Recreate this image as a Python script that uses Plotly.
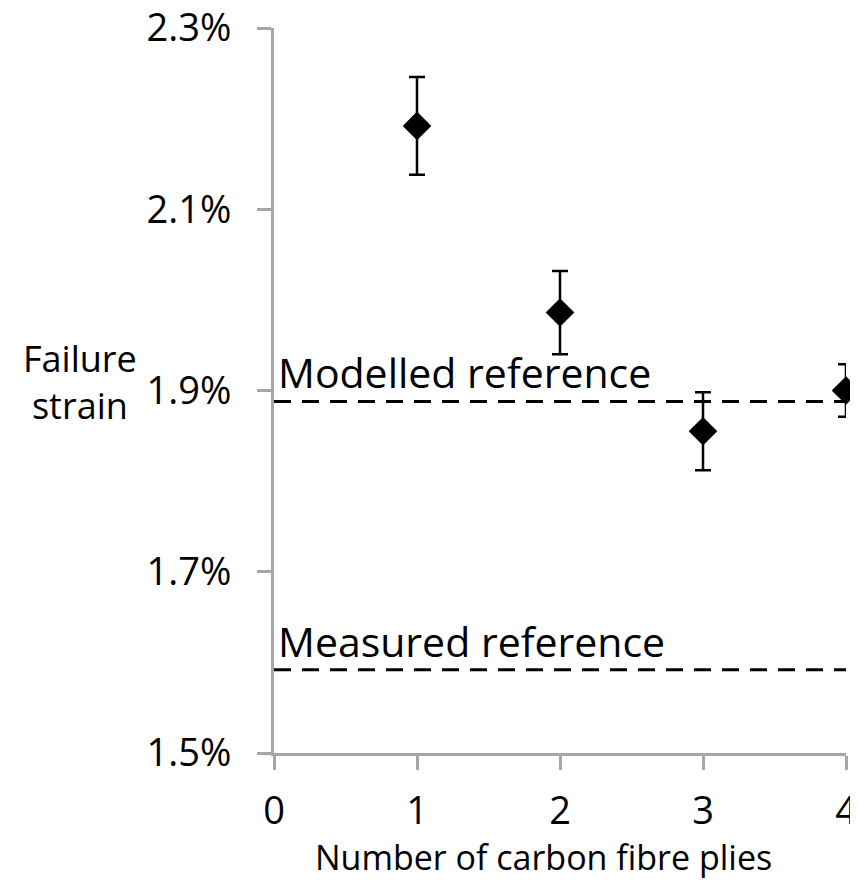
import plotly.graph_objects as go

plies = [1, 2, 3, 4]
failure_strain = [0.02192, 0.01986, 0.01855, 0.01900]
strain_error = [0.00054, 0.00046, 0.00043, 0.00029]
modelled_reference = 0.01888
measured_reference = 0.01592
ref_x = [0, 4]
y_ticks = [0.015, 0.017, 0.019, 0.021, 0.023]
x_ticks = [0, 1, 2, 3, 4]

FONT = "Open Sans"
AXIS_GREY = "#a6a6a6"
W, H = 858, 880
OFF = 8  # page body margin
L, T = 274 - OFF, 28 - OFF
R = W - (846 - OFF)
B = H - (753 - OFF)
PW, PH = W - L - R, H - T - B


def px_x(x):
    return (x - OFF - L) / PW


def px_y(y):
    return 1 - (y - OFF - T) / PH


fig = go.Figure()

fig.add_trace(go.Scatter(
    x=ref_x, y=[modelled_reference] * 2, mode="lines",
    line=dict(color="black", width=3, dash="17px,11px"),
    showlegend=False, hoverinfo="skip", cliponaxis=False))
fig.add_trace(go.Scatter(
    x=ref_x, y=[measured_reference] * 2, mode="lines",
    line=dict(color="black", width=3, dash="17px,11px"),
    showlegend=False, hoverinfo="skip", cliponaxis=False))

fig.add_trace(go.Scatter(
    x=plies, y=failure_strain, mode="markers",
    marker=dict(symbol="diamond", size=22, color="black"),
    error_y=dict(type="data", array=strain_error, visible=True,
                 color="black", thickness=2.5, width=8),
    showlegend=False, cliponaxis=False))

fig.add_annotation(x=0, y=modelled_reference, xref="x", yref="y",
                   text="Modelled reference", showarrow=False,
                   xanchor="left", yanchor="bottom", xshift=2, yshift=-1,
                   font=dict(family=FONT, size=41, color="black"))
fig.add_annotation(x=0, y=measured_reference, xref="x", yref="y",
                   text="Measured reference", showarrow=False,
                   xanchor="left", yanchor="bottom", xshift=2, yshift=-1,
                   font=dict(family=FONT, size=41, color="black"))

fig.add_annotation(xref="paper", yref="paper",
                   x=px_x(80), y=px_y(382),
                   xanchor="center", yanchor="middle",
                   text="Failure<br>strain", showarrow=False,
                   font=dict(family=FONT, size=36, color="black"))

fig.add_annotation(xref="paper", yref="paper",
                   x=px_x(543), y=px_y(857),
                   xanchor="center", yanchor="middle",
                   text="Number of carbon fibre plies", showarrow=False,
                   font=dict(family=FONT, size=34, color="black"))

fig.update_layout(
    width=W, height=H,
    margin=dict(l=L, r=R, t=T, b=B),
    paper_bgcolor="white", plot_bgcolor="white",
    font=dict(family=FONT, size=38, color="black"),
    xaxis=dict(
        range=[0, 4], tickvals=x_ticks, ticktext=[str(v) for v in x_ticks],
        showline=True, linecolor=AXIS_GREY, linewidth=3,
        ticks="outside", ticklen=14, tickwidth=3, tickcolor=AXIS_GREY,
        showgrid=False, zeroline=False, automargin=False,
        tickfont=dict(family=FONT, size=38, color="black"),
        ticklabelstandoff=8, ticklabeloverflow="allow",
    ),
    yaxis=dict(
        range=[0.015, 0.023], tickvals=y_ticks, tickformat=".1%",
        showline=True, linecolor=AXIS_GREY, linewidth=3,
        ticks="outside", ticklen=14, tickwidth=3, tickcolor=AXIS_GREY,
        showgrid=False, zeroline=False, automargin=False,
        tickfont=dict(family=FONT, size=38, color="black"),
        ticklabelstandoff=18, ticklabeloverflow="allow",
    ),
)

fig.write_html("out.html")
